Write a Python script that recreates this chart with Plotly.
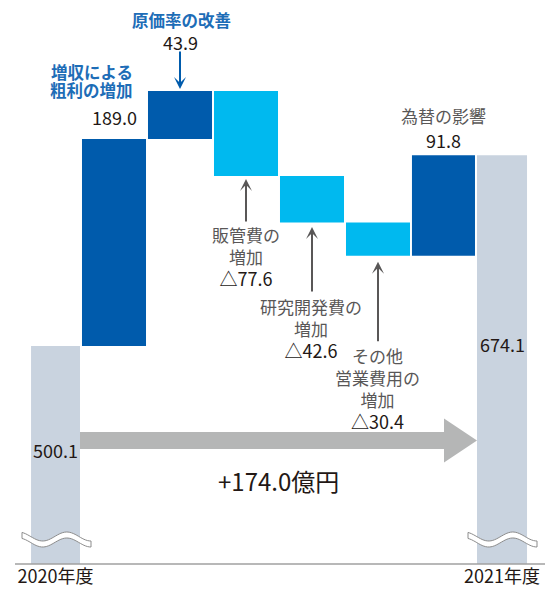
import numpy as np
import plotly.graph_objects as go

# ---------------- data ----------------
categories = ["2020年度", "増収による粗利の増加", "原価率の改善", "販管費の増加",
              "研究開発費の増加", "その他営業費用の増加", "為替の影響", "2021年度"]
values = [500.1, 189.0, 43.9, -77.6, -42.6, -30.4, 91.8, 674.1]
measures = ["absolute", "relative", "relative", "relative",
            "relative", "relative", "relative", "total"]
tick_labels = ["2020年度", "2021年度"]
change_names = [["増収による", "粗利の増加"], ["原価率の改善"], ["販管費の", "増加"],
                ["研究開発費の", "増加"], ["その他", "営業費用の", "増加"], ["為替の影響"]]
unit = "億円"

# ---------------- style / layout ----------------
FONT = "Noto Sans CJK JP"
C_DARK = "#005BAC"
C_CYAN = "#00B9EF"
C_TOTAL = "#C9D3DF"
C_ARROW = "#B5B6B6"
C_TXT = "#231815"
C_GRAY = "#595757"
C_BLUE = "#1D6DB7"
NUM_SIZE = 18

W, H = 545, 589
PLOT_H = 564
YR = [301.0, 816.0]
XR = [-48 / 66, (545 - 48) / 66]
X_POS = [0.114, 1, 2, 3, 4, 5, 5.992, 6.879]
WIDTHS = [0.742, 0.97, 0.97, 0.97, 0.97, 0.97, 0.955, 0.758]

def px_x(p):
    return XR[0] + p / 66.0

def px_y(p):
    return YR[1] - p * (YR[1] - YR[0]) / PLOT_H

def fmt(v):
    return f"{v:.1f}" if v >= 0 else f"△{abs(v):.1f}"

# cumulative levels
levels = []
cum = 0.0
for v, m in zip(values, measures):
    if m == "absolute":
        base, cum = 0.0, v
    elif m == "relative":
        base, cum = cum, cum + v
    else:
        base = 0.0
    levels.append((min(base, cum), max(base, cum)))

fig = go.Figure(go.Waterfall(
    x=X_POS, y=values, measure=measures, width=WIDTHS,
    increasing=dict(marker=dict(color=C_DARK, line=dict(width=0))),
    decreasing=dict(marker=dict(color=C_CYAN, line=dict(width=0))),
    totals=dict(marker=dict(color=C_TOTAL, line=dict(width=0))),
    connector=dict(visible=False),
    hoverinfo="skip", textinfo="none",
))

ann = []
def add(text, i, y, yshift=0, xshift=0, xanchor="center", color=C_TXT, size=17, bold=False):
    ann.append(dict(x=X_POS[i], y=y, xref="x", yref="y", text=(f"<b>{text}</b>" if bold else text),
                    showarrow=False, xanchor=xanchor, yanchor="middle",
                    xshift=xshift, yshift=yshift,
                    font=dict(family=FONT, size=size, color=color)))

def arrow(i, y, ay, standoff, color):
    ann.append(dict(x=X_POS[i], y=y, xref="x", yref="y", text="", showarrow=True,
                    ax=0, ay=ay, arrowhead=3, arrowsize=1.0, arrowwidth=2,
                    arrowcolor=color, standoff=standoff))

# totals
add(fmt(values[0]), 0, levels[0][1], yshift=-104, size=NUM_SIZE)
add(fmt(values[7]), 7, levels[7][1], yshift=-189, size=NUM_SIZE)

# 1: gross profit
add(fmt(values[1]), 1, levels[1][1], yshift=22, size=NUM_SIZE)
add(change_names[0][0], 1, levels[1][1], yshift=67, xshift=21, xanchor="right", color=C_BLUE, size=16.5, bold=True)
add(change_names[0][1], 1, levels[1][1], yshift=48.5, xshift=21, xanchor="right", color=C_BLUE, size=16.5, bold=True)

# 2: cost ratio
add(fmt(values[2]), 2, levels[2][1], yshift=49, size=NUM_SIZE)
add(change_names[1][0], 2, levels[2][1], yshift=71, xshift=1, color=C_BLUE, size=16.5, bold=True)
arrow(2, levels[2][1], -41, 2, C_DARK)

# 3-5: decreases
def block(names, v):
    lines = [f'<span style="color:{C_GRAY}">{n}</span>' for n in names]
    lines.append(f'<span style="color:{C_TXT};font-size:{NUM_SIZE}px">{fmt(v)}</span>')
    return "<br>".join(lines)

add(block(change_names[2], values[3]), 3, levels[3][0], yshift=-80.5)
arrow(3, levels[3][0], 47, 3, C_GRAY)
add(block(change_names[3], values[4]), 4, levels[4][0], yshift=-106, xshift=-1)
arrow(4, levels[4][0], 70.5, 4.5, C_GRAY)
add(block(change_names[4], values[5]), 5, levels[5][0], yshift=-133, xshift=-1)
arrow(5, levels[5][0], 87, 6, C_GRAY)

# 6: FX
add(change_names[5][0], 6, levels[6][1], yshift=40, color=C_GRAY)
add(fmt(values[6]), 6, levels[6][1], yshift=15, size=NUM_SIZE)

# big arrow between totals
x0 = X_POS[0] + WIDTHS[0] / 2
xt = X_POS[-1] - WIDTHS[-1] / 2
xh = xt - 0.5
yc = px_y(440.5)
sh = 8.5 * (YR[1] - YR[0]) / PLOT_H
hh = 22 * (YR[1] - YR[0]) / PLOT_H
path = (f"M{x0},{yc+sh} L{xh},{yc+sh} L{xh},{yc+hh} L{xt},{yc} "
        f"L{xh},{yc-hh} L{xh},{yc-sh} L{x0},{yc-sh} Z")
shapes = [dict(type="path", path=path, xref="x", yref="y", fillcolor=C_ARROW, line=dict(width=0))]

diff = values[-1] - values[0]
ann.append(dict(x=(x0 + xt) / 2, y=yc, xref="x", yref="y", text=f"+{diff:.1f}{unit}",
                showarrow=False, yshift=-40, yanchor="middle",
                font=dict(family=FONT, size=24, color=C_TXT)))

# break marks
def wave(p0, p1):
    t = np.linspace(0, 1, 40)
    xs = p0 + (p1 - p0) * t
    yc_ = 539.5 + 4.5 * np.sin(2 * np.pi * 1.43 * (t - 0.125))
    up = [(px_x(a), px_y(b - 3)) for a, b in zip(xs, yc_)]
    lo = [(px_x(a), px_y(b + 3)) for a, b in zip(xs, yc_)][::-1]
    pts = up + lo
    d = "M" + " L".join(f"{a:.4f},{b:.3f}" for a, b in pts) + " Z"
    return dict(type="path", path=d, xref="x", yref="y", fillcolor="white",
                line=dict(color="#8C8C8C", width=1))

shapes.append(wave(22, 91))
shapes.append(wave(468, 537))

# baseline
shapes.append(dict(type="line", xref="paper", yref="paper", x0=15 / W, x1=1, y0=0, y1=0,
                   line=dict(color="#A0A0A0", width=1.5)))

fig.update_layout(
    width=W, height=H,
    margin=dict(l=0, r=0, t=0, b=H - PLOT_H),
    paper_bgcolor="white", plot_bgcolor="white",
    showlegend=False,
    annotations=ann, shapes=shapes,
    xaxis=dict(range=XR, showgrid=False, zeroline=False, showline=False,
               tickvals=[X_POS[0], X_POS[-1]], ticktext=tick_labels, ticks="",
               tickfont=dict(family=FONT, size=18, color=C_TXT), automargin=False,
               fixedrange=True),
    yaxis=dict(range=YR, visible=False, fixedrange=True),
)

fig.write_html("out.html", config={"displayModeBar": False},
               post_script="document.body.style.margin='0';document.body.style.overflow='hidden';")
